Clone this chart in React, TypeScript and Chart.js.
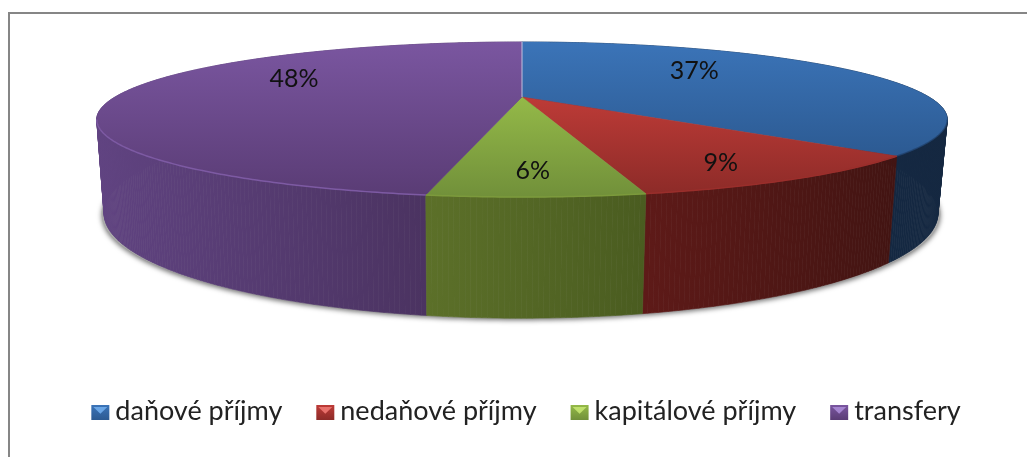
import React, { useEffect, useRef } from "react";
import { Chart, registerables } from "chart.js";

Chart.register(...registerables);

const categories = ["daňové příjmy", "nedaňové příjmy", "kapitálové příjmy", "transfery"];
const shares = [36.7, 9.8, 6.2, 47.3];
const percentLabels = ["37%", "9%", "6%", "48%"];

const topFrom = ["#3b74b8", "#bd3b37", "#94b948", "#7a56a0"];
const topTo = ["#2c5a92", "#8d2b28", "#71903a", "#5a3c75"];
const sideFrom = ["#152b47", "#5e1a18", "#5c7029", "#604381"];
const sideTo = ["#142740", "#421412", "#4a5c20", "#4b3361"];
const rimColor = ["rgba(30,60,100,0.6)", "#9a2e2b", "#7c9a3c", "#7d5aa3"];
const markerLight = ["#6aa6e6", "#e8716c", "#bfe06c", "#a585d0"];

const labelRadius = [0.49, 0.78, 0.8, 0.57];
const labelShift = [-13, 6, 0, -15];

const K = 0.29;
const TOP_PLANE = { cx: 522, cy: 97, rx: 407, ry: 71 };
const BOTTOM_PLANE = { cx: 521, cy: 183, rx: 399, ry: 96 };

type Plane = typeof TOP_PLANE;

const project = (p: Plane, angle: number, r = 1) => {
  const u = Math.cos(angle) * r;
  const v = Math.sin(angle) * r;
  const w = 1 - K * v;
  return { x: p.cx + (p.rx * u) / w, y: p.cy + (p.ry * v) / w };
};

const arcPoints = (p: Plane, a0: number, a1: number) => {
  const n = Math.max(2, Math.ceil(Math.abs(a1 - a0) / 0.01));
  const pts: { x: number; y: number }[] = [];
  for (let i = 0; i <= n; i++) pts.push(project(p, a0 + ((a1 - a0) * i) / n));
  return pts;
};

const trace = (ctx: CanvasRenderingContext2D, pts: { x: number; y: number }[], move = true) => {
  pts.forEach((q, i) => (i === 0 && move ? ctx.moveTo(q.x, q.y) : ctx.lineTo(q.x, q.y)));
};

const pie3d = {
  id: "pie3d",
  beforeDraw(chart: any) {
    const c: CanvasRenderingContext2D = chart.ctx;
    c.save();
    c.fillStyle = "#ffffff";
    c.fillRect(0, 0, chart.width, chart.height);
    c.strokeStyle = "#868686";
    c.lineWidth = 2;
    c.beginPath();
    c.moveTo(9, chart.height);
    c.lineTo(9, 13);
    c.lineTo(chart.width, 13);
    c.stroke();
    c.restore();
  },
  beforeDatasetDraw() {
    return false;
  },
  afterDatasetsDraw(chart: any) {
    const c: CanvasRenderingContext2D = chart.ctx;
    const arcs = chart.getDatasetMeta(0).data as any[];
    c.save();

    // soft shadow below the drum
    c.save();
    c.shadowColor = "rgba(0,0,0,0.55)";
    c.shadowBlur = 5;
    c.shadowOffsetY = 2;
    c.fillStyle = "#aaaaaa";
    c.beginPath();
    trace(c, arcPoints({ ...BOTTOM_PLANE, rx: BOTTOM_PLANE.rx * 1.006 }, 0, Math.PI * 2));
    c.closePath();
    c.fill();
    c.restore();

    // drum sides, back to front, as thin quads between the two rims
    [0, 3, 1, 2].forEach((i) => {
      const a = arcs[i];
      const top = arcPoints(TOP_PLANE, a.startAngle, a.endAngle);
      const bottom = arcPoints(BOTTOM_PLANE, a.startAngle, a.endAngle);
      const xs = [...top, ...bottom].filter((q) => q.y > 119).map((q) => q.x);
      const g = c.createLinearGradient(Math.min(...xs), 0, Math.max(...xs), 0);
      g.addColorStop(0, sideFrom[i]);
      g.addColorStop(1, sideTo[i]);
      c.fillStyle = g;
      c.strokeStyle = g;
      c.lineWidth = 0.6;
      for (let k = 0; k < top.length - 1; k++) {
        c.beginPath();
        c.moveTo(top[k].x, top[k].y);
        c.lineTo(top[k + 1].x, top[k + 1].y);
        c.lineTo(bottom[k + 1].x, bottom[k + 1].y);
        c.lineTo(bottom[k].x, bottom[k].y);
        c.closePath();
        c.fill();
        c.stroke();
      }
    });

    // top face
    arcs.forEach((a, i) => {
      const rim = arcPoints(TOP_PLANE, a.startAngle, a.endAngle);
      const apex = project(TOP_PLANE, 0, 0);
      const ys = [...rim.map((q) => q.y), apex.y];
      const g = c.createLinearGradient(0, Math.min(...ys), 0, Math.max(...ys));
      g.addColorStop(0, topFrom[i]);
      g.addColorStop(1, topTo[i]);
      c.fillStyle = g;
      c.strokeStyle = g;
      c.lineWidth = 0.5;
      c.beginPath();
      c.moveTo(apex.x, apex.y);
      trace(c, rim, false);
      c.closePath();
      c.fill();
      c.stroke();
    });

    // lit rim on the front edge
    arcs.forEach((a, i) => {
      const rim = arcPoints(TOP_PLANE, a.startAngle, a.endAngle).filter((q) => q.y > 119);
      if (rim.length < 2) return;
      c.strokeStyle = rimColor[i];
      c.lineWidth = 1.5;
      c.beginPath();
      trace(c, rim);
      c.stroke();
    });

    // pale seam at twelve o'clock
    const seamA = project(TOP_PLANE, 0, 0);
    const seamB = project(TOP_PLANE, arcs[0].startAngle);
    c.strokeStyle = "rgba(220,230,245,0.75)";
    c.lineWidth = 1;
    c.beginPath();
    c.moveTo(seamA.x, seamA.y);
    c.lineTo(seamB.x, seamB.y);
    c.stroke();

    // percentage labels
    c.font = "25px Lato";
    c.textAlign = "center";
    c.textBaseline = "middle";
    c.fillStyle = "#111111";
    arcs.forEach((a, i) => {
      const mid = (a.startAngle + a.endAngle) / 2;
      const q = project(TOP_PLANE, mid, labelRadius[i]);
      c.fillText(percentLabels[i], q.x, q.y + labelShift[i]);
    });
    c.restore();
  },
  afterDraw(chart: any) {
    const c: CanvasRenderingContext2D = chart.ctx;
    const boxes = chart.legend.legendHitBoxes as any[];
    boxes.forEach((b, i) => {
      const x = b.left;
      const w = 18;
      const h = 15;
      const y = b.top + b.height / 2 - h / 2 + 1;
      const g = c.createLinearGradient(0, y, 0, y + h);
      g.addColorStop(0, topFrom[i]);
      g.addColorStop(1, topTo[i]);
      c.fillStyle = g;
      c.fillRect(x, y, w, h);
      c.fillStyle = markerLight[i];
      c.beginPath();
      c.moveTo(x + 2, y + 2);
      c.lineTo(x + w - 2, y + 2);
      c.lineTo(x + w / 2, y + h * 0.58);
      c.closePath();
      c.fill();
    });
  },
};

export default function App() {
  const ref = useRef<HTMLCanvasElement>(null);
  useEffect(() => {
    const chart = new Chart(ref.current!, {
      type: "pie",
      data: {
        labels: categories,
        datasets: [{ data: shares, backgroundColor: topFrom, borderWidth: 0 }],
      },
      options: {
        responsive: false,
        animation: false,
        layout: { padding: { left: 25, right: 0, top: 20, bottom: 22 } },
        plugins: {
          tooltip: { enabled: false },
          legend: {
            display: true,
            position: "bottom",
            labels: {
              boxWidth: 10.5,
              boxHeight: 14,
              padding: 34,
              color: "#222222",
              font: { family: "Lato", size: 27 },
              generateLabels: () =>
                categories.map((text, i) => ({
                  text,
                  index: i,
                  datasetIndex: 0,
                  fillStyle: "transparent",
                  strokeStyle: "transparent",
                  lineWidth: 0,
                  fontColor: "#222222",
                })),
            },
          },
        },
      },
      plugins: [pie3d],
    } as any);
    return () => chart.destroy();
  }, []);
  return (
    <div style={{ position: "fixed", left: 0, top: 0, width: 1027, height: 457 }}>
      <canvas ref={ref} width={1027} height={457} style={{ display: "block" }} />
    </div>
  );
}
